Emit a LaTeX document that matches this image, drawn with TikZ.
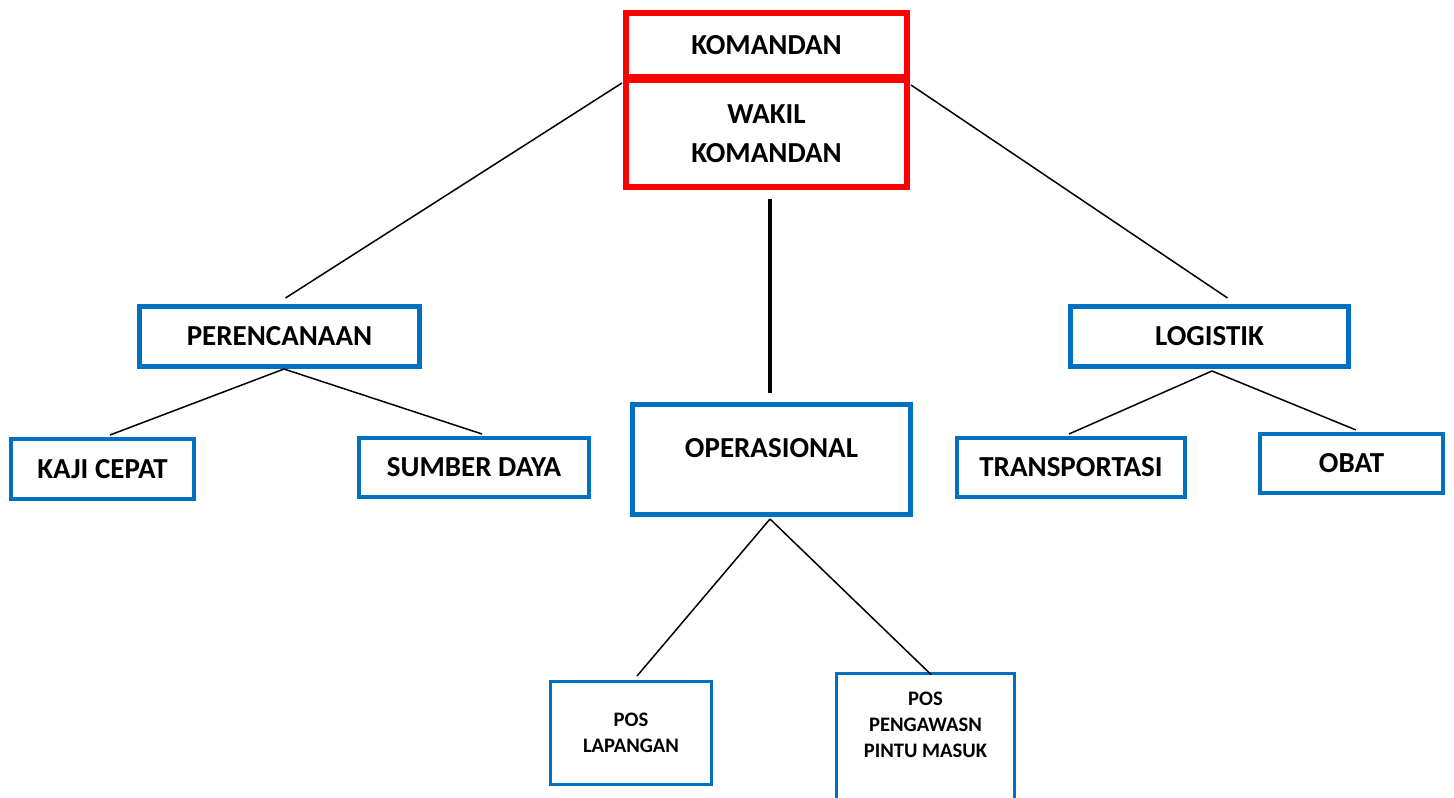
\documentclass[tikz,border=0pt]{standalone}
\usepackage{fontspec}
\setmainfont{Carlito}
\usetikzlibrary{calc}
\definecolor{boxblue}{HTML}{0070C0}
\definecolor{boxred}{HTML}{FF0000}
\tikzset{
  redbox/.style={draw=boxred, line width=3pt, rectangle, inner sep=0pt, align=center,
    font=\bfseries\fontsize{14.5}{19.5}\selectfont},
  bigbox/.style={draw=boxblue, line width=2.5pt, rectangle, inner sep=0pt, align=center,
    font=\bfseries\fontsize{14.5}{19.5}\selectfont},
  midbox/.style={draw=boxblue, line width=2pt, rectangle, inner sep=0pt, align=center,
    font=\bfseries\fontsize{14.5}{19.5}\selectfont},
  smallbox/.style={draw=boxblue, line width=1.5pt, rectangle, inner sep=0pt, align=center,
    font=\bfseries\fontsize{10.3}{13}\selectfont},
  txt/.style={inner sep=0pt, align=center},
  link/.style={draw=black, line width=0.75pt},
  thicklink/.style={draw=black, line width=2pt}
}
\begin{document}
\begin{tikzpicture}[x=0.5pt,y=-0.5pt]
\useasboundingbox (0,0) rectangle (1454,797);
\clip (0,0) rectangle (1454,797);

% top red boxes
\node[redbox, minimum width=140.5pt, minimum height=53.5pt] (wak) at (766.5,133.5) {WAKIL\\KOMANDAN};
\node[redbox, minimum width=140.5pt, minimum height=32pt] (kom) at (766.5,45) {KOMANDAN};

% second level
\node[bigbox, minimum width=140pt, minimum height=30pt] (per) at (279.5,336.5) {PERENCANAAN};
\node[bigbox, minimum width=139pt, minimum height=55pt] (op) at (771.5,459.5) {};
\node[txt, font=\bfseries\fontsize{14.5}{19.5}\selectfont] (optxt) at (771.5,448) {OPERASIONAL};
\node[bigbox, minimum width=139pt, minimum height=30pt] (log) at (1209.5,336.5) {LOGISTIK};

% third level
\node[midbox, minimum width=91.5pt, minimum height=30pt] (kaji) at (102.5,469) {KAJI CEPAT};
\node[midbox, minimum width=115pt, minimum height=29.5pt] (sum) at (474,467.5) {SUMBER DAYA};
\node[midbox, minimum width=114pt, minimum height=29.5pt] (tra) at (1071,467.5) {TRANSPORTASI};
\node[midbox, minimum width=91.5pt, minimum height=29.5pt] (obat) at (1351.5,463.5) {OBAT};

% bottom
\node[smallbox, minimum width=80.5pt, minimum height=51.5pt] (lap) at (631,733) {POS\\LAPANGAN};
\node[smallbox, minimum width=89pt, minimum height=78.25pt] (peng) at (925.5,751.75) {};
\node[txt, font=\bfseries\fontsize{10.3}{13}\selectfont] (pengtxt) at (925.5,724.5) {POS\\PENGAWASN\\PINTU MASUK};

% connectors
\draw[link] ($(kom.south west)+(-1,3)$) -- ($(per.north)+(6,-6)$);
\draw[link] ($(kom.south east)+(1,5)$) -- ($(log.north)+(18,-6)$);
\draw[thicklink] ($(wak.south)+(3.5,9)$) -- ($(op.north)+(-1.5,-9)$);

\draw[link] ($(per.south)+(4.5,0)$) -- ($(kaji.north)+(7.5,-2)$);
\draw[link] ($(per.south)+(4.5,0)$) -- ($(sum.north)+(8,-2)$);

\draw[link] ($(log.south)+(2.5,2)$) -- ($(tra.north)+(-2,-2)$);
\draw[link] ($(log.south)+(2.5,2)$) -- ($(obat.north)+(4.5,-2)$);

\draw[link] ($(op.south)+(-1.5,2)$) -- ($(lap.north)+(6,-4)$);
\draw[link] ($(op.south)+(-1.5,2)$) -- ($(peng.north)+(5.5,2.5)$);
\end{tikzpicture}
\end{document}
